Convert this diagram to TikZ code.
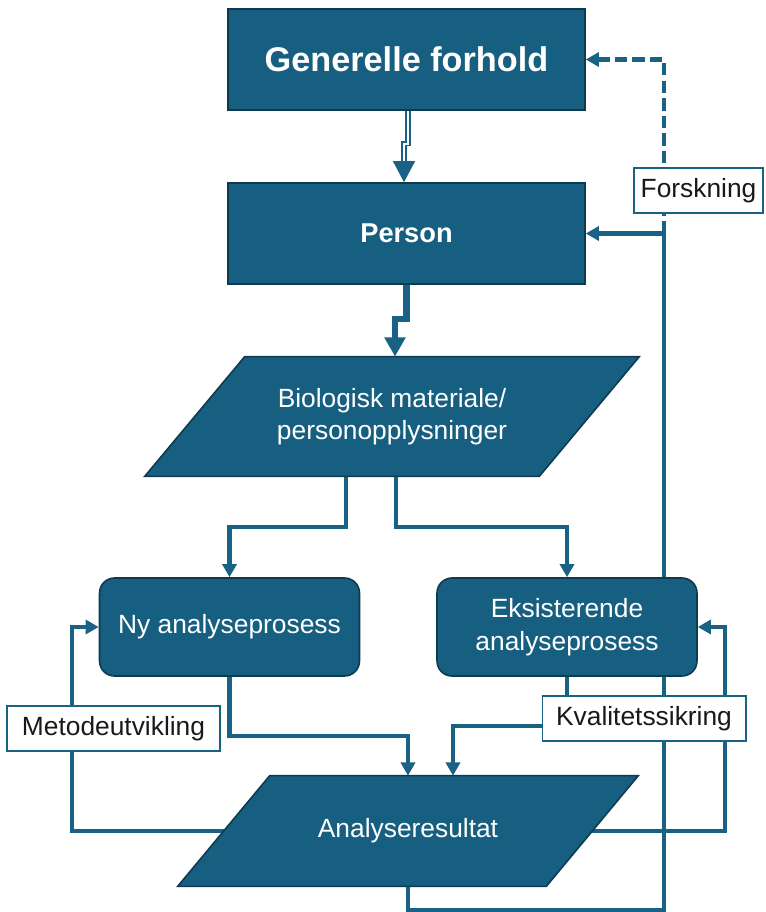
\documentclass[tikz,border=0pt]{standalone}
\usepackage{fontspec}
\setmainfont{Liberation Sans}
\usetikzlibrary{arrows.meta,backgrounds}
\pgfdeclarelayer{shapes}
\pgfsetlayers{background,shapes,main}
\definecolor{boxfill}{HTML}{175F80}
\definecolor{boxline}{HTML}{0E3A4F}
\definecolor{linkcol}{HTML}{1A6285}
\tikzset{
  block/.style={draw=boxline, line width=0.9pt, fill=boxfill, text=white, inner sep=0pt, align=center},
  topbox/.style={block, minimum width=7.14cm, minimum height=2.02cm},
  procbox/.style={block, rounded corners=8.5pt, minimum width=5.2cm, minimum height=1.96cm, font=\fontsize{15}{18.5}\selectfont},
  databox/.style={text=white, inner sep=0pt, align=center, font=\fontsize{15}{18.5}\selectfont},
  tag/.style={draw=linkcol, line width=0.6pt, fill=white, text=black!90, inner sep=0pt, minimum height=0.9cm, font=\fontsize{15}{18}\selectfont},
  link/.style={draw=linkcol, line width=2.3pt, -{Triangle[width=8pt,length=7.5pt]}},
}
\begin{document}
\begin{tikzpicture}[x=0.02cm, y=-0.02cm]
\useasboundingbox (0,0) rectangle (765,912);
% boxes
\node[topbox, font=\fontsize{19.5}{23}\bfseries] (gen) at (406.5,59.5) {Generelle forhold};
\node[topbox, font=\fontsize{15.5}{18}\bfseries] (per) at (406.5,233.5) {Person};
\node[databox, minimum width=7.88cm, minimum height=2.38cm] (bio) at (392,416.5) {Biologisk materiale/\\personopplysninger};
\node[procbox] (ny) at (229.5,627) {Ny analyseprosess};
\node[procbox] (eks) at (567,627) {Eksisterende\\analyseprosess};
\node[databox, minimum width=7.36cm, minimum height=2.2cm] (res) at (408,831) {Analyseresultat};
% parallelograms behind the texts
\begin{pgfonlayer}{shapes}
\draw[block] ([xshift=-1cm]bio.south west) -- ([xshift=-1cm]bio.south east)
  -- ([xshift=1cm]bio.north east) -- ([xshift=1cm]bio.north west) -- cycle;
\draw[block] ([xshift=-0.92cm]res.south west) -- ([xshift=-0.92cm]res.south east)
  -- ([xshift=0.92cm]res.north east) -- ([xshift=0.92cm]res.north west) -- cycle;
\end{pgfonlayer}
% labels
\node[tag, minimum width=2.58cm] (fk) at (698.5,190.5) {Forskning};
\node[tag, minimum width=4.26cm] (mu) at (113.5,728.5) {Metodeutvikling};
\node[tag, minimum width=4.08cm] (kv) at (644,718.5) {Kvalitetssikring};
\coordinate (fbot) at (664,910);
\coordinate (mleft) at (72,831);
\coordinate (mright) at (725,831);
% connectors
\begin{scope}[on background layer]
\draw[draw=linkcol, line width=0.8pt, double=white, double distance=1.3pt, -{Triangle[width=12.5pt,length=12pt]}]
  ([xshift=0.03cm]gen.south) -- ++(0,33) -| ([xshift=-0.05cm]per.north);
\draw[draw=linkcol, line width=3.6pt, -{Triangle[width=11.5pt,length=11pt]}]
  (per.south) -- ++(0,34) -| ([xshift=0.06cm]bio.north);
\draw[link] ([xshift=-0.92cm]bio.south) -- ++(0,51) -| (ny.north);
\draw[link] ([xshift=0.08cm]bio.south) -- ++(0,51) -| (eks.north);
\draw[link] (ny.south) -- ++(0,59) -| (res.north);
\draw[link] (eks.south) -- ++(0,49) -| ([xshift=0.9cm]res.north);
\draw[link] (res.west) -- (mleft) |- (ny.west);
\draw[link] (res.east) -- (mright) |- (eks.east);
\draw[link] (res.south) |- (fbot) -- (fbot |- per.east) -- (per.east);
\draw[link, dash pattern=on 7pt off 3pt] (fbot |- per.east) |- (gen.east);
\end{scope}
\end{tikzpicture}
\end{document}
